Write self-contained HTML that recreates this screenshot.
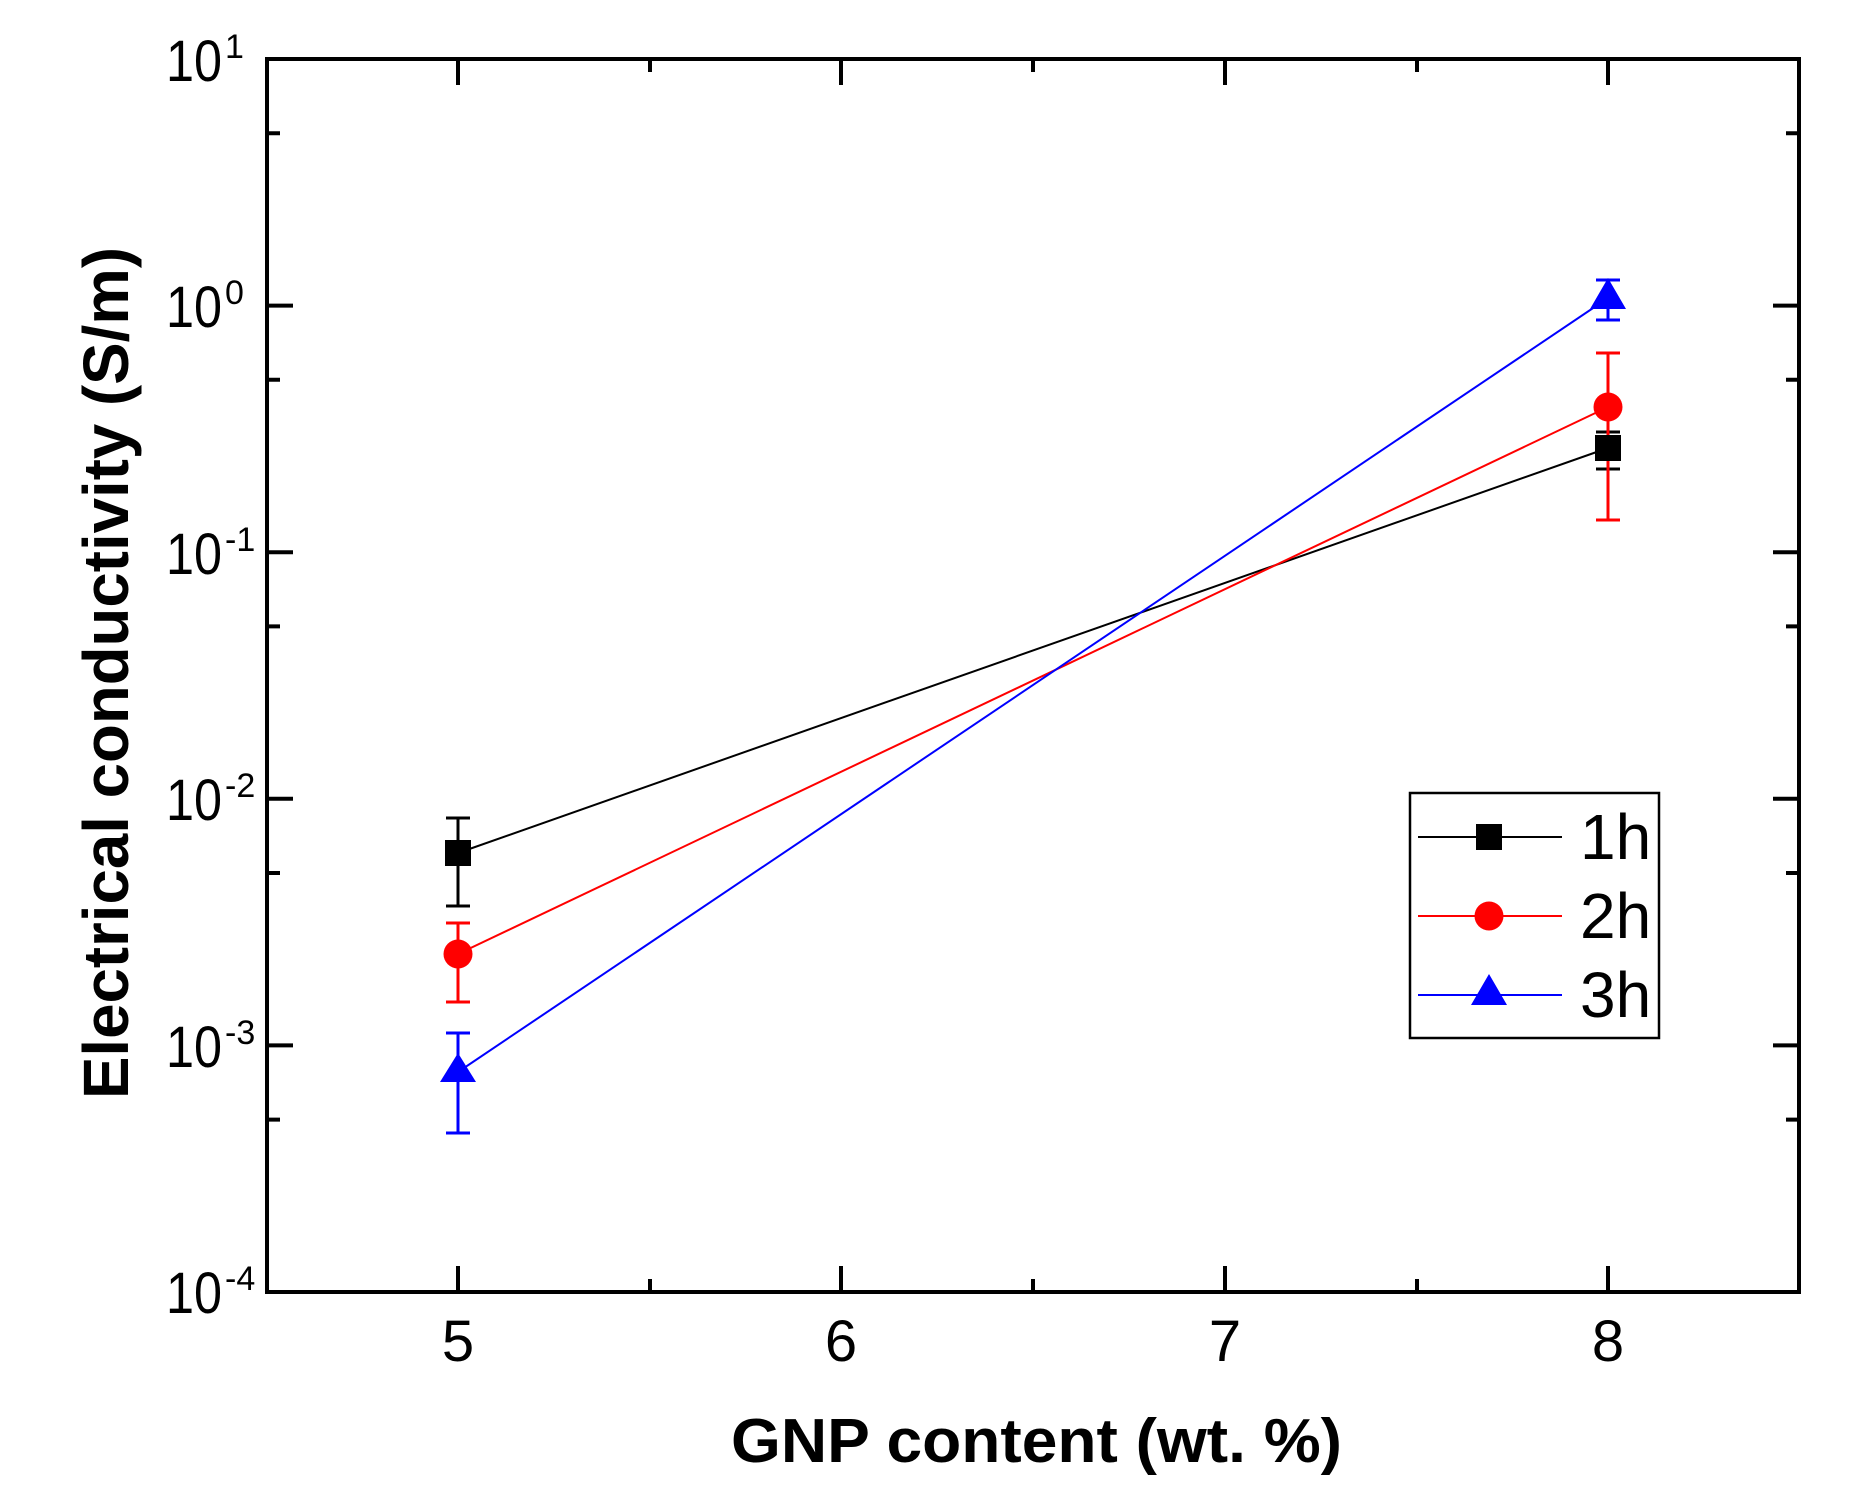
<!DOCTYPE html>
<html><head><meta charset="utf-8"><style>html,body{margin:0;padding:0;background:#fff}svg{display:block}</style></head>
<body>
<svg width="1850" height="1501" viewBox="0 0 1850 1501" xmlns="http://www.w3.org/2000/svg" font-family="Liberation Sans, Arial, sans-serif">
<rect width="1850" height="1501" fill="#fff"/>
<g stroke="#000" stroke-width="4" fill="none">
<rect x="267" y="59" width="1532" height="1233"/>
<path d="M458 1292v-26M841 1292v-26M1225 1292v-26M1608 1292v-26M650 1292v-13M1033 1292v-13M1417 1292v-13
M458 59v26M841 59v26M1225 59v26M1608 59v26M650 59v13M1033 59v13M1417 59v13"/>
<path d="M267 305.6h26M267 552.2h26M267 798.8h26M267 1045.4h26M267 133.2h13M267 379.8h13M267 626.4h13M267 873h13M267 1119.6h13
M1799 305.6h-26M1799 552.2h-26M1799 798.8h-26M1799 1045.4h-26M1799 133.2h-13M1799 379.8h-13M1799 626.4h-13M1799 873h-13M1799 1119.6h-13"/>
</g>
<g font-size="58" fill="#000">
<text x="222" y="81" text-anchor="end" textLength="56" lengthAdjust="spacingAndGlyphs">10</text><text x="225" y="58" font-size="34">1</text>
<text x="222" y="327" text-anchor="end" textLength="56" lengthAdjust="spacingAndGlyphs">10</text><text x="225" y="304" font-size="34">0</text>
<text x="222" y="574" text-anchor="end" textLength="56" lengthAdjust="spacingAndGlyphs">10</text><text x="225" y="551" font-size="34">-1</text>
<text x="222" y="820" text-anchor="end" textLength="56" lengthAdjust="spacingAndGlyphs">10</text><text x="225" y="797" font-size="34">-2</text>
<text x="222" y="1067" text-anchor="end" textLength="56" lengthAdjust="spacingAndGlyphs">10</text><text x="225" y="1044" font-size="34">-3</text>
<text x="222" y="1313" text-anchor="end" textLength="56" lengthAdjust="spacingAndGlyphs">10</text><text x="225" y="1290" font-size="34">-4</text>
<text x="458" y="1361" text-anchor="middle">5</text>
<text x="841" y="1361" text-anchor="middle">6</text>
<text x="1225" y="1361" text-anchor="middle">7</text>
<text x="1608" y="1361" text-anchor="middle">8</text>
</g>
<text x="731" y="1462" font-size="62" font-weight="bold" textLength="611" lengthAdjust="spacingAndGlyphs">GNP content (wt. %)</text>
<text transform="translate(128,673) rotate(-90)" text-anchor="middle" font-size="64" font-weight="bold" textLength="852" lengthAdjust="spacingAndGlyphs">Electrical conductivity (S/m)</text>
<g stroke-width="2" fill="none">
<path d="M458 853L1608 448" stroke="#000"/>
<path d="M458 954L1608 407" stroke="#f00"/>
<path d="M458 1072L1608 298" stroke="#00f"/>
</g>
<g stroke-width="3" fill="none">
<path d="M458 818V906M446 818h24M446 906h24M1608 432V469M1596 432h24M1596 469h24" stroke="#000"/>
<path d="M458 923V1002M446 923h24M446 1002h24M1608 353V520M1596 353h24M1596 520h24" stroke="#f00"/>
<path d="M458 1033V1133M446 1033h24M446 1133h24M1608 280V320M1596 280h24M1596 320h24" stroke="#00f"/>
</g>
<rect x="445" y="840" width="26" height="26" fill="#000"/>
<rect x="1595" y="435" width="26" height="26" fill="#000"/>
<circle cx="458" cy="954" r="14.5" fill="#f00"/>
<circle cx="1608" cy="407" r="14.5" fill="#f00"/>
<path d="M458 1053L476 1082H440Z" fill="#00f"/>
<path d="M1608 278L1626 309H1590Z" fill="#00f"/>
<rect x="1410" y="793" width="249" height="245" fill="#fff" stroke="#000" stroke-width="2.5"/>
<path d="M1418 837H1562" stroke="#000" stroke-width="2"/>
<path d="M1418 916H1562" stroke="#f00" stroke-width="2"/>
<path d="M1418 995H1562" stroke="#00f" stroke-width="2"/>
<rect x="1476" y="824" width="26" height="26" fill="#000"/>
<circle cx="1489" cy="916" r="14.5" fill="#f00"/>
<path d="M1489 974L1507 1005H1471Z" fill="#00f"/>
<g font-size="64" fill="#000">
<text x="1580" y="859">1h</text>
<text x="1580" y="938">2h</text>
<text x="1580" y="1017">3h</text>
</g>
</svg>
</body></html>
